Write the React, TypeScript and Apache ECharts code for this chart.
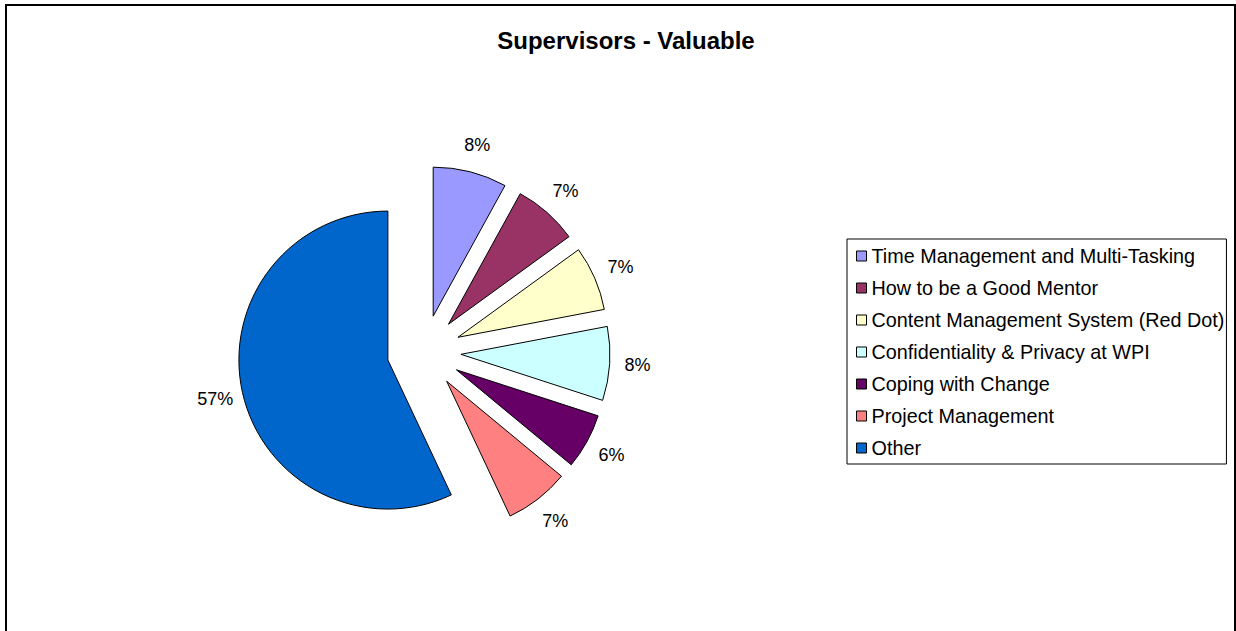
import React, { useEffect, useRef } from "react";
import * as echarts from "echarts";

const titleText = "Supervisors - Valuable";
const categories = [
  "Time Management and Multi-Tasking",
  "How to be a Good Mentor",
  "Content Management System (Red Dot)",
  "Confidentiality & Privacy at WPI",
  "Coping with Change",
  "Project Management",
  "Other",
];
const values = [8, 7, 7, 8, 6, 7, 57];
const colors = ["#9999FF", "#993366", "#FFFFCC", "#CCFFFF", "#660066", "#FF8080", "#0066CC"];

export default function App() {
  const ref = useRef<HTMLDivElement>(null);
  useEffect(() => {
    if (!ref.current) return;
    const chart = echarts.init(ref.current, undefined, { renderer: "svg" });
    const font = "Liberation Sans, Arial, sans-serif";
    chart.setOption({
      animation: false,
      backgroundColor: "#ffffff",
      title: {
        text: titleText,
        left: 621,
        textAlign: "center",
        top: 23,
        textStyle: { fontFamily: font, fontSize: 24, fontWeight: "bold", color: "#000" },
      },
      graphic: [
        {
          type: "rect",
          shape: { x: 6, y: 5, width: 1229, height: 640 },
          style: { fill: "none", stroke: "#000", lineWidth: 2 },
        },
      ],
      legend: {
        orient: "vertical",
        left: 847,
        top: 239,
        padding: [7, 2, 6, 9],
        borderColor: "#000",
        borderWidth: 1,
        itemGap: 12,
        itemWidth: 10,
        itemHeight: 10,
        icon: "rect",
        selectedMode: false,
        itemStyle: { borderColor: "#000", borderWidth: 1 },
        textStyle: { fontFamily: font, fontSize: 19.8, color: "#000", padding: [0, 0, 0, 0] },
        data: categories,
      },
      series: [
        {
          type: "pie",
          center: [424, 352],
          radius: 149,
          startAngle: 90,
          clockwise: true,
          selectedMode: "multiple",
          selectedOffset: 37,
          avoidLabelOverlap: false,
          itemStyle: { borderColor: "#000", borderWidth: 1 },
          emphasis: { disabled: true },
          select: { itemStyle: { borderColor: "#000", borderWidth: 1 } },
          label: {
            show: true,
            position: "outside",
            formatter: "{d}%",
            fontFamily: font,
            fontSize: 18,
            color: "#000",
            distanceToLabelLine: 0,
          },
          labelLine: { show: false, length: 28, length2: 0 },
          labelLayout: () => ({ align: "center", verticalAlign: "middle" }),
          data: categories.map((name, i) => ({
            name,
            value: values[i],
            selected: true,
            itemStyle: { color: colors[i] },
          })),
        },
      ],
    });
    return () => chart.dispose();
  }, []);
  return (
    <div
      ref={ref}
      style={{ position: "fixed", left: 0, top: 0, width: 1236, height: 631 }}
    />
  );
}
